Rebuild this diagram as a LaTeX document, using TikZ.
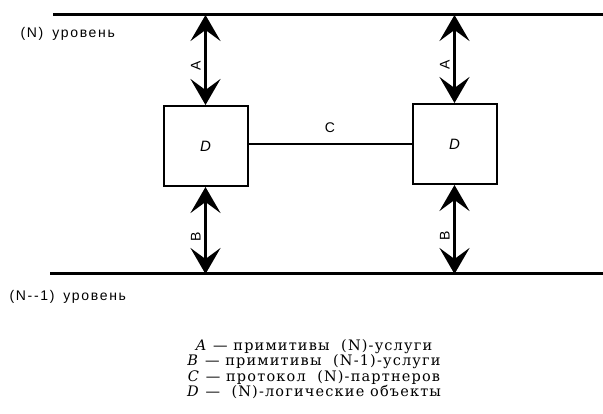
\documentclass[tikz,border=0pt]{standalone}
\usepackage{fontspec}
\setmainfont[LetterSpace=8]{DejaVu Serif}
\newfontfamily\lblfont[LetterSpace=12]{Liberation Sans}
\newfontfamily\dfont{Liberation Sans}
\usetikzlibrary{arrows.meta}
\newcommand\legfont{\fontsize{14.5}{14}\selectfont}
\begin{document}
\begin{tikzpicture}[x=1pt,y=-1pt,
  level/.style={line width=3pt},
  ent/.style={draw,line width=2pt,minimum width=84pt,minimum height=80pt,inner sep=0pt,font=\dfont\fontsize{15}{17}\selectfont\itshape},
  tip/.tip={Stealth[length=26pt,width=30pt,inset=11pt]},
  dbl/.style={line width=3pt,tip-tip},
  lbl/.style={font=\lblfont\fontsize{14}{16}\selectfont,rotate=90},
  lev/.style={font=\lblfont\fontsize{14}{16}\selectfont,anchor=west},
  legend/.style={font=\legfont,align=center,anchor=north}]
\useasboundingbox (0,0) rectangle (603,414);
\coordinate (t1) at (53,15);
\coordinate (t2) at (603,15);
\coordinate (b1) at (50,274);
\coordinate (b2) at (603,274);
\draw[level] (t1) -- (t2);
\draw[level] (b1) -- (b2);
\node[ent] (d1) at (205.5,146) {D};
\node[ent] (d2) at (454.5,144) {D};
\coordinate (ta1) at (d1.center |- t1);
\coordinate (ba1) at (d1.center |- b1);
\coordinate (ta2) at (d2.center |- t2);
\coordinate (ba2) at (d2.center |- b2);
\draw[dbl] (ta1) -- node[lbl,left=6pt,anchor=south] {A} (d1.north);
\draw[dbl] (d1.south) -- node[lbl,left=6pt,anchor=south] {B} (ba1);
\draw[dbl] (ta2) -- node[lbl,left=6pt,anchor=south] {A} (d2.north);
\draw[dbl] (d2.south) -- node[lbl,left=6pt,anchor=south] {B} (ba2);
\draw[line width=2pt] (d1.east |- d2.center) -- node[above=7pt,font=\dfont\fontsize{14}{16}\selectfont] {C} (d2.west);
\node[lev] (nl) at (17,34) {(N)\hspace{9pt}уровень};
\node[lev] (n1l) at (6,297) {(N--1)\hspace{9pt}уровень};
\node[legend] (leg) at (314,336) {%
\textit{A} --- примитивы\ \ (N)-услуги\\
\textit{B} --- примитивы\ \ (N-1)-услуги\\
\textit{C} --- протокол\ \ (N)-партнеров\\
\textit{D} --- \ (N)-логические объекты};
\end{tikzpicture}
\end{document}
